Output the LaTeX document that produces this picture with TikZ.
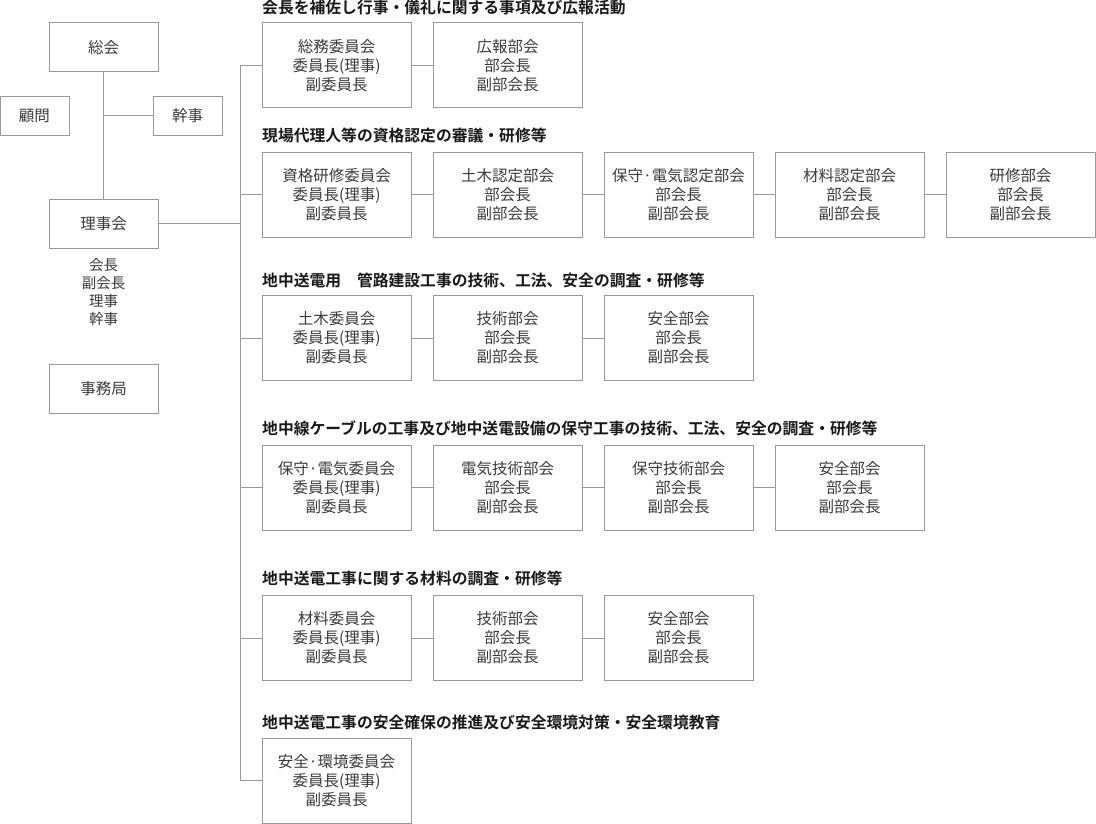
\documentclass[tikz,border=0pt]{standalone}
\usepackage{fontspec}
\setmainfont{Noto Sans CJK JP}[BoldFont={Noto Sans CJK JP Bold}]
\usepackage{xcolor}
\usepackage{tikz}
\usetikzlibrary{positioning}

\definecolor{frame}{HTML}{999999}
\definecolor{ink}{HTML}{3A3A3A}

\begin{document}
\begin{tikzpicture}[
    x=1pt, y=-1pt,
    block/.style={rectangle, draw=frame, line width=1pt, text=ink, inner sep=0pt, align=center, font=\fontsize{15.5}{19}\selectfont},
    unit/.style={block, minimum width=149pt, minimum height=85pt},
    top/.style={block, minimum width=109pt, minimum height=49pt},
    small/.style={block, minimum width=69pt, minimum height=39pt},
    heading/.style={anchor=west, inner sep=0pt, text=black!90, font=\bfseries\fontsize{15.8}{19}\selectfont},
    link/.style={draw=frame, line width=1pt},
]
\useasboundingbox (0,0) rectangle (1096,824);

% left side
\node[top] (sokai) at (103.5, 47.5) {総会};
\node[small] (komon) at (34.5, 116) {顧問};
\node[small] (kanji) at (187.5, 116) {幹事};
\node[top] (rijikai) at (103.5, 224) {理事会};
\node[inner sep=0pt, text=ink, align=center, font=\fontsize{14.5}{18}\selectfont] (yakuin) at (103.5, 292) {会長\\副会長\\理事\\幹事};
\node[top] (jimu) at (103.5, 388.5) {事務局};

\draw[link] (sokai) -- (rijikai);
\draw[link] (kanji) -- (kanji -| sokai);

% trunk
\coordinate (b1) at (240, 65.5);
\coordinate (b2) at (240, 195);
\coordinate (b3) at (240, 338);
\coordinate (b4) at (240, 487.5);
\coordinate (b5) at (240, 638);
\coordinate (b6) at (240, 780.5);
\draw[link] (b1) -- (b6);
\draw[link] (rijikai) -- (rijikai -| b1);

% row 1
\node[heading] (h1) at (262, 8) {会長を補佐し行事・儀礼に関する事項及び広報活動};
\node[unit] (somu) at (336.5, 65.5) {総務委員会\\委員長(理事)\\副委員長};
\node[unit] (koho) at (507.5, 65.5) {広報部会\\部会長\\副部会長};
\draw[link] (b1) -- (somu);
\draw[link] (somu) -- (koho);

% row 2
\node[heading] (h2) at (262, 135) {現場代理人等の資格認定の審議・研修等};
\node[unit] (shikaku) at (336.5, 195) {資格研修委員会\\委員長(理事)\\副委員長};
\node[unit] (doboku2) at (507.5, 195) {土木認定部会\\部会長\\副部会長};
\node[unit] (hoshu2) at (678.5, 195) {保守·電気認定部会\\部会長\\副部会長};
\node[unit] (zairyo2) at (849.5, 195) {材料認定部会\\部会長\\副部会長};
\node[unit] (kenshu2) at (1020.5, 195) {研修部会\\部会長\\副部会長};
\draw[link] (b2) -- (shikaku);
\draw[link] (shikaku) -- (doboku2);
\draw[link] (doboku2) -- (hoshu2);
\draw[link] (hoshu2) -- (zairyo2);
\draw[link] (zairyo2) -- (kenshu2);

% row 3
\node[heading] (h3) at (262, 280) {地中送電用　管路建設工事の技術、工法、安全の調査・研修等};
\node[unit] (doboku) at (336.5, 338) {土木委員会\\委員長(理事)\\副委員長};
\node[unit] (gijutsu3) at (507.5, 338) {技術部会\\部会長\\副部会長};
\node[unit] (anzen3) at (678.5, 338) {安全部会\\部会長\\副部会長};
\draw[link] (b3) -- (doboku);
\draw[link] (doboku) -- (gijutsu3);
\draw[link] (gijutsu3) -- (anzen3);

% row 4
\node[heading] (h4) at (262, 428) {地中線ケーブルの工事及び地中送電設備の保守工事の技術、工法、安全の調査・研修等};
\node[unit] (hoshu) at (336.5, 487.5) {保守·電気委員会\\委員長(理事)\\副委員長};
\node[unit] (denki4) at (507.5, 487.5) {電気技術部会\\部会長\\副部会長};
\node[unit] (hoshu4) at (678.5, 487.5) {保守技術部会\\部会長\\副部会長};
\node[unit] (anzen4) at (849.5, 487.5) {安全部会\\部会長\\副部会長};
\draw[link] (b4) -- (hoshu);
\draw[link] (hoshu) -- (denki4);
\draw[link] (denki4) -- (hoshu4);
\draw[link] (hoshu4) -- (anzen4);

% row 5
\node[heading] (h5) at (262, 578) {地中送電工事に関する材料の調査・研修等};
\node[unit] (zairyo) at (336.5, 638) {材料委員会\\委員長(理事)\\副委員長};
\node[unit] (gijutsu5) at (507.5, 638) {技術部会\\部会長\\副部会長};
\node[unit] (anzen5) at (678.5, 638) {安全部会\\部会長\\副部会長};
\draw[link] (b5) -- (zairyo);
\draw[link] (zairyo) -- (gijutsu5);
\draw[link] (gijutsu5) -- (anzen5);

% row 6
\node[heading] (h6) at (262, 722) {地中送電工事の安全確保の推進及び安全環境対策・安全環境教育};
\node[unit] (kankyo) at (336.5, 780.5) {安全·環境委員会\\委員長(理事)\\副委員長};
\draw[link] (b6) -- (kankyo);

\end{tikzpicture}
\end{document}
